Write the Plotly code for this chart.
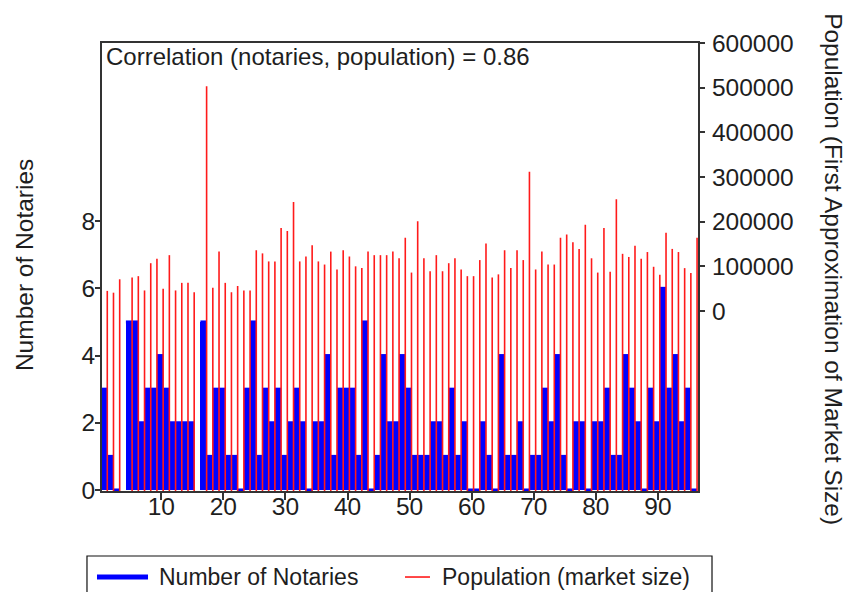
import plotly.graph_objects as go

# ---------------- data ----------------
obs = list(range(1, 97))

notaries = [3, 1, 0, None, 5, 5, 2, 3, 3, 4,
            3, 2, 2, 2, 2, None, 5, 1, 3, 3,
            1, 1, 0, 3, 5, 1, 3, 2, 3, 1,
            2, 3, 2, 0, 2, 2, 4, 1, 3, 3,
            3, 1, 5, 0, 1, 4, 2, 2, 4, 3,
            1, 1, 1, 2, 2, 1, 3, 1, 2, 0,
            0, 2, 1, 0, 4, 1, 1, 2, 0, 1,
            1, 3, 2, 4, 1, 0, 2, 2, 0, 2,
            2, 3, 1, 1, 4, 3, 2, 0, 3, 2,
            6, 3, 4, 2, 3, 0]

population = [45000, 41000, 71000, None, 75000, 78000, 46000, 107000, 117000, 50000,
              125000, 46000, 63000, 63000, 42000, None, 503000, 52000, 133000, 63000,
              42000, 56000, 46000, 46000, 136000, 129000, 111000, 111000, 186000, 179000,
              244000, 111000, 122000, 147000, 111000, 104000, 133000, 93000, 136000, 122000,
              100000, 96000, 133000, 125000, 125000, 125000, 133000, 118000, 164000, 86000,
              201000, 118000, 89000, 125000, 89000, 107000, 118000, 93000, 78000, 78000,
              114000, 151000, 75000, 82000, 136000, 96000, 136000, 114000, 312000, 93000,
              133000, 104000, 104000, 164000, 171000, 154000, 139000, 193000, 118000, 86000,
              186000, 88000, 250000, 128000, 121000, 146000, 117000, 132000, 99000, 81000,
              175000, 139000, 132000, 96000, 85000, 164000]

x_ticks = [10, 20, 30, 40, 50, 60, 70, 80, 90]
left_ticks = [0, 2, 4, 6, 8]
right_ticks = [0, 100000, 200000, 300000, 400000, 500000, 600000]

annotation_text = "Correlation (notaries, population) = 0.86"
left_title = "Number of Notaries"
right_title = "Population (First Approximation of Market Size)"
legend_names = ["Number of Notaries", "Population (market size)"]

# ---------------- styling ----------------
FONT = "Liberation Sans, Arial, sans-serif"
TXT = "#1e1e1e"
AX = "#333333"
BLUE = "#0000ff"
RED = "#ff1a1a"
STEP_END = 0.3          # steps / spikes sit at the right end of each observation
Y2_MIN = -403000
Y2_MAX = 600000
TICK_SIZE = 24.5

# blue outline (step line) built from the notaries series; gaps stay open
bx, by = [], []
for i, v in zip(obs, notaries):
    bx += [i - 1 + STEP_END, i + STEP_END, None]
    by += [v, v, None]

# red spikes built from the population series
rx, ry = [], []
for i, p in zip(obs, population):
    if p is None:
        continue
    rx += [i + STEP_END, i + STEP_END, None]
    ry += [Y2_MIN, p, None]

fig = go.Figure()
fig.add_trace(go.Bar(
    x=obs, y=notaries, width=1, offset=STEP_END - 1,
    marker=dict(color=BLUE, line=dict(width=0)),
    name=legend_names[0], showlegend=False, hoverinfo="skip", yaxis="y"))
fig.add_trace(go.Scatter(
    x=bx, y=by, mode="lines", line=dict(color=BLUE, width=3), connectgaps=False,
    showlegend=False, hoverinfo="skip", yaxis="y"))
fig.add_trace(go.Scatter(
    x=rx, y=ry, mode="lines", line=dict(color=RED, width=1.6),
    name=legend_names[1], showlegend=False, hoverinfo="skip", yaxis="y2"))

axis_common = dict(showgrid=False, zeroline=False, showline=True, linecolor=AX,
                   linewidth=2, ticks="outside", tickcolor=AX, tickwidth=1.5,
                   tickfont=dict(family=FONT, size=TICK_SIZE, color=TXT))

fig.update_layout(
    width=846, height=592, autosize=False,
    margin=dict(l=102, r=148, t=43, b=101),
    plot_bgcolor="white", paper_bgcolor="white",
    font=dict(family=FONT, color=TXT),
    bargap=0,
    xaxis=dict(range=[0.45, 96.45], tickvals=x_ticks, ticklen=7, mirror=True,
               ticklabelstandoff=-14, **axis_common),
    yaxis=dict(range=[-0.03, 13.3], tickvals=left_ticks, ticklen=5,
               ticklabelstandoff=-5, **axis_common),
    yaxis2=dict(range=[Y2_MIN, Y2_MAX], tickvals=right_ticks, tickformat="d",
                ticklen=5, overlaying="y", side="right", ticklabelstandoff=2,
                **axis_common),
    showlegend=False,
)

# text annotations
fig.add_annotation(text=annotation_text, xref="paper", yref="paper",
                   x=0.003, y=0.969, xanchor="left", yanchor="middle",
                   showarrow=False, font=dict(family=FONT, size=24, color=TXT))
fig.add_annotation(text=left_title, xref="paper", yref="paper",
                   x=-0.129, y=0.5045, textangle=-90, xanchor="center", yanchor="middle",
                   showarrow=False, font=dict(family=FONT, size=24.5, color=TXT))
fig.add_annotation(text=right_title, xref="paper", yref="paper",
                   x=1.228, y=0.4955, textangle=90, xanchor="center", yanchor="middle",
                   showarrow=False, font=dict(family=FONT, size=24.5, color=TXT))

# legend box (drawn below the plot, partly cut by the page edge)
fig.add_shape(type="rect", xref="paper", yref="paper",
              x0=-0.0252, x1=1.0235, y0=-0.1451, y1=-0.26,
              line=dict(color="#111111", width=1.2), fillcolor="rgba(0,0,0,0)")
fig.add_shape(type="line", xref="paper", yref="paper",
              x0=-0.0084, x1=0.0772, y0=-0.192, y1=-0.192,
              line=dict(color=BLUE, width=5))
fig.add_shape(type="line", xref="paper", yref="paper",
              x0=0.5084, x1=0.5503, y0=-0.192, y1=-0.192,
              line=dict(color=RED, width=1.6))
fig.add_annotation(text=legend_names[0], xref="paper", yref="paper",
                   x=0.0923, y=-0.192, xanchor="left", yanchor="middle",
                   showarrow=False, font=dict(family=FONT, size=23, color=TXT))
fig.add_annotation(text=legend_names[1], xref="paper", yref="paper",
                   x=0.5671, y=-0.192, xanchor="left", yanchor="middle",
                   showarrow=False, font=dict(family=FONT, size=23, color=TXT))

fig.write_html("out.html",
               config={"displayModeBar": False},
               post_script="document.body.style.margin='0px';"
                           "document.body.style.overflow='hidden';")
